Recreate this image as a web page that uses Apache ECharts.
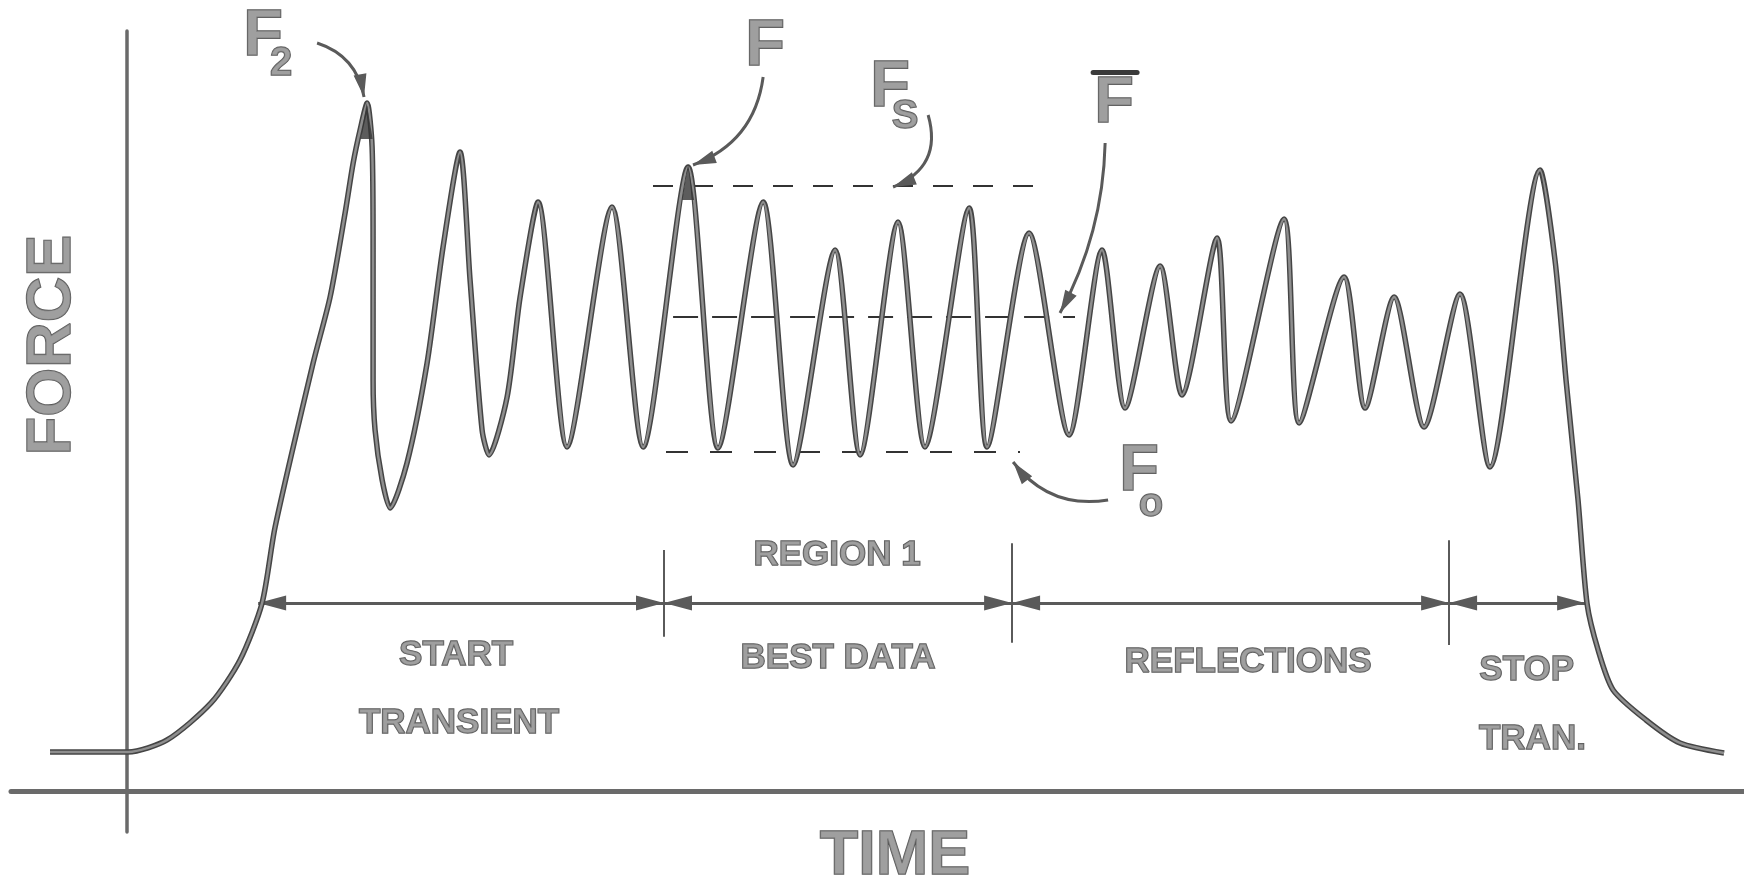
<!DOCTYPE html>
<html>
<head>
<meta charset="utf-8">
<script src="https://cdn.jsdelivr.net/npm/echarts@6/dist/echarts.min.js"></script>
<style>html,body{margin:0;padding:0;background:#fff}#c{width:1744px;height:883px}</style>
</head>
<body>
<div id="c"></div>
<script>
// ---- data (time units, force units) ----
const time = [-4.68,-1.64,0.06,2.43,5.10,6.86,8.20,8.99,11.30,12.33,13.24,13.73,14.15,14.58,14.88,14.94,14.94,15.06,15.49,15.97,17.0,18.22,19.19,20.22,20.83,21.56,21.98,23.08,23.87,24.96,26.72,29.45,31.34,34.07,35.89,38.63,40.45,43.0,44.52,46.82,48.46,51.14,52.23,54.78,57.21,59.21,60.61,62.74,64.07,66.2,67.05,70.27,71.18,73.91,75.19,76.95,78.77,80.95,82.77,85.81,86.72,87.39,88.12,88.67,89.34,90.25,92.25,94.31,96.99];
const force = [5.13,5.13,5.13,6.71,11.58,17.24,24.74,34.74,56.32,65.0,76.05,82.63,86.97,90.53,84.74,71.58,54.08,47.5,40.92,37.24,43.16,56.32,71.58,84.08,67.24,47.5,44.21,51.84,65.0,77.5,45.26,76.84,45.26,82.11,45.13,77.5,42.89,71.18,44.21,74.87,45.26,76.71,45.26,73.42,46.84,71.18,50.39,69.08,52.11,72.76,48.68,75.26,48.42,67.63,50.39,65.0,47.89,65.39,42.63,81.71,69.87,54.08,38.29,24.61,18.55,13.29,9.34,6.32,5.0];

// reference levels Fs, F-bar, Fo
const levelForce = [79.6, 62.37, 44.6];
const levelStart = [31.94, 33.16, 32.73];
const levelEnd = [56.18, 57.57, 54.23];

// region boundaries along time and the force level of the span arrows
const regionBounds = [7.96, 32.61, 53.75, 80.29, 88.55];
const spanForce = 24.74;
const dividerTime = [32.61, 53.75, 80.29];
const dividerTop = [31.7, 32.6, 33.0];
const dividerBottom = [20.3, 19.5, 19.2];

// region labels
const regionText = ['REGION 1','START','TRANSIENT','BEST DATA','REFLECTIONS','STOP','TRAN.'];
const regionT = [43.12, 19.98, 20.16, 43.18, 68.08, 85.0, 85.35];
const regionF = [31.05, 17.89, 8.95, 17.5, 16.97, 15.92, 6.84];

// symbol labels (F2, F, Fs, F-bar, Fo)
const letterText = ['F','F','F','F','F'];
const letterT = [8.26, 38.75, 46.34, 59.94, 61.46];
const letterF = [99.2, 97.89, 92.5, 90.33, 41.91];
const subText = ['2','S','o'];
const subT = [9.35, 47.25, 62.19];
const subF = [95.66, 88.68, 37.63];
const overbarT = [58.67, 61.34];
const overbarF = 94.6;

// annotation arrows (F2, F, Fs, F-bar, Fo)
const arrowStartT = [11.54, 38.63, 48.65, 59.4, 59.58];
const arrowStartF = [98.42, 93.95, 88.95, 85.26, 38.29];
const arrowTipT = [14.39, 34.37, 46.52, 56.66, 53.81];
const arrowTipF = [91.32, 82.37, 79.47, 62.89, 43.29];

// filled peak tips (F2, F)
const tipT = [14.55, 34.07];
const tipF = [88.16, 80.13];

// axis titles and where they sit (time, force)
const axisNames = ['TIME', 'FORCE'];
const axisNameT = [46.64, -4.55];
const axisNameF = [-8.68, 58.68];

// ---- build option ----
const curve = time.map((t, i) => [t, force[i]]);
const textStyleBase = {
  fontFamily: 'Liberation Sans, Arial, sans-serif',
  fontWeight: 'bold',
  color: '#878787',
  textBorderColor: '#2e2e2e',
  textBorderWidth: 1.4
};
const gray = '#5a5a5a';
const arrowBend = [0.3, 0.3, 0.45, 0.12, 0.3];
const levelDash = [[20, 20], [25, 14], [22, 22]];
// triangle whose tip sits at the symbol centre (points "up" = outward)
const headPath = 'path://M5,28 L10,56 L0,56 Z M5,0 L5,0.01';

const levelLines = levelForce.map((f, i) => ({
  coords: [[levelStart[i], f], [levelEnd[i], f]],
  lineStyle: { type: levelDash[i] }
}));
const dividerLines = dividerTime.map((t, i) => ({
  coords: [[t, dividerTop[i]], [t, dividerBottom[i]]]
}));
const spans = [];
for (let i = 0; i < regionBounds.length - 1; i++) {
  spans.push({ coords: [[regionBounds[i], spanForce], [regionBounds[i + 1], spanForce]] });
}
const arrows = arrowStartT.map((t, i) => ({
  coords: [[t, arrowStartF[i]], [arrowTipT[i], arrowTipF[i]]],
  lineStyle: { curveness: arrowBend[i] }
}));

function labelSeries(texts, ts, fs, size, extra) {
  return {
    type: 'scatter', symbolSize: 1, itemStyle: { color: 'rgba(0,0,0,0)' }, z: 10,
    silent: true, clip: false,
    data: texts.map((s, i) => ({ value: [ts[i], fs[i]], label: { formatter: s } })),
    label: Object.assign({ show: true, position: 'inside', fontSize: size }, textStyleBase, extra || {})
  };
}

const option = {
  backgroundColor: '#fff',
  animation: false,
  grid: { left: 11, right: 0, top: 31, bottom: 51, containLabel: false, outerBoundsMode: 'none' },
  xAxis: {
    type: 'value', min: -7.05, max: 98.2,
    axisLine: { show: true, onZero: true, lineStyle: { color: '#6a6a6a', width: 5 } },
    axisTick: { show: false }, axisLabel: { show: false }, splitLine: { show: false }
  },
  yAxis: {
    type: 'value', min: -5.4, max: 100,
    axisLine: { show: true, onZero: true, lineStyle: { color: '#6a6a6a', width: 3.5 } },
    axisTick: { show: false }, axisLabel: { show: false }, splitLine: { show: false }
  },
  series: [
    { type: 'line', data: curve, smooth: 0.25, symbol: 'none', z: 3,
      lineStyle: { color: '#454545', width: 5.5 } },
    { type: 'line', data: curve, smooth: 0.25, symbol: 'none', z: 4,
      lineStyle: { color: '#8e8e8e', width: 2.5 } },
    { type: 'scatter', data: tipT.map((t, i) => [t, tipF[i]]), symbol: 'triangle',
      symbolSize: [12, 36], itemStyle: { color: '#333' }, z: 5 },
    { type: 'lines', coordinateSystem: 'cartesian2d', data: levelLines, z: 2,
      lineStyle: { color: '#333', width: 2, opacity: 1 }, symbol: 'none' },
    { type: 'lines', coordinateSystem: 'cartesian2d', data: dividerLines, z: 2,
      lineStyle: { color: gray, width: 2, opacity: 1 }, symbol: 'none' },
    { type: 'lines', coordinateSystem: 'cartesian2d', z: 2,
      data: [{ coords: [[overbarT[0], overbarF], [overbarT[1], overbarF]] }],
      lineStyle: { color: '#3a3a3a', width: 5, opacity: 1, cap: 'round' }, symbol: 'none' },
    { type: 'lines', coordinateSystem: 'cartesian2d', data: spans, z: 2,
      lineStyle: { color: gray, width: 3, opacity: 1 },
      symbol: [headPath, headPath], symbolSize: [[15, 56], [15, 56]] },
    { type: 'lines', coordinateSystem: 'cartesian2d', data: arrows, z: 2,
      lineStyle: { color: gray, width: 3, opacity: 1 },
      symbol: ['none', headPath], symbolSize: [[13, 46], [13, 46]] },
    labelSeries(regionText, regionT, regionF, 35),
    labelSeries(letterText, letterT, letterF, 65),
    labelSeries(subText, subT, subF, 40),
    labelSeries([axisNames[0]], [axisNameT[0]], [axisNameF[0]], 63),
    labelSeries([axisNames[1]], [axisNameT[1]], [axisNameF[1]], 63, { rotate: 90 })
  ]
};
const chart = echarts.init(document.getElementById('c'), null, { renderer: 'canvas' });
chart.setOption(option);
</script>
</body>
</html>
